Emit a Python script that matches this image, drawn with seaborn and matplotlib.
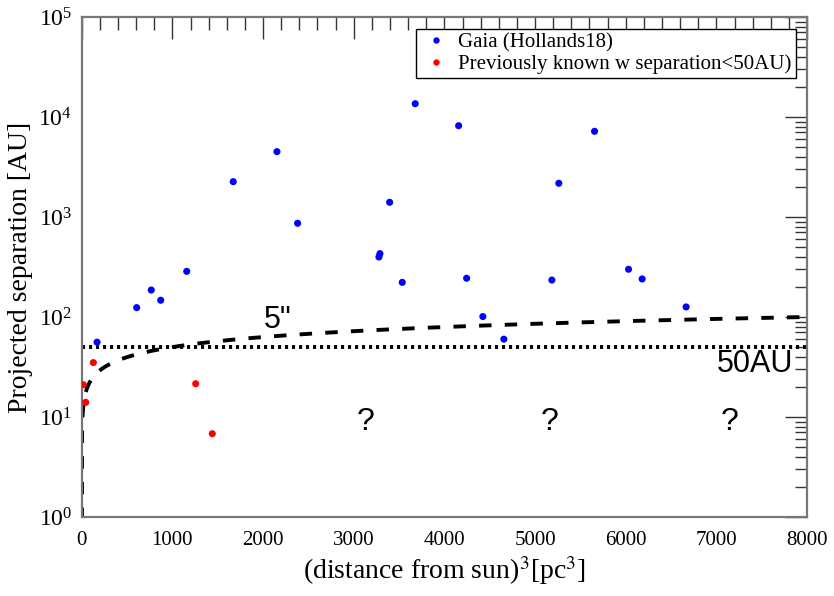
import numpy as np
import pandas as pd
import matplotlib
matplotlib.use("Agg")
import matplotlib.pyplot as plt
import seaborn as sns
from matplotlib.ticker import MultipleLocator, LogLocator, LogFormatterMathtext, NullFormatter

# ---- data ----
gaia_d3 = [169, 606, 767, 871, 1158, 1671, 2153, 2381, 3289, 3278, 3396, 3535,
           3678, 4157, 4245, 4424, 4656, 5185, 5262, 5656, 6031, 6181, 6666]
gaia_sep = [56, 124, 186, 147, 286, 2255, 4500, 865, 430, 398, 1403, 222,
            13580, 8180, 244, 101, 60, 234, 2173, 7190, 300, 240, 126]
known_d3 = [18, 44, 128, 1257, 1440]
known_sep = [21, 14.0, 35, 21.5, 6.8]
series_names = ["Gaia (Hollands18)", "Previously known w separation<50AU)"]
series_colors = ["#0000ff", "#ff0000"]

ang_limit_arcsec = 5.0      # 5" resolution limit: sep[AU] = 5 * d[pc]
sep_limit_au = 50.0
x_ticks = [0, 1000, 2000, 3000, 4000, 5000, 6000, 7000, 8000]
question_x = [3130, 5160, 7150]
question_y = 9.0

df = pd.DataFrame({
    "d3": gaia_d3 + known_d3,
    "sep": gaia_sep + known_sep,
    "group": [series_names[0]] * len(gaia_d3) + [series_names[1]] * len(known_d3),
})

sns.set_style("white")
plt.rcParams["font.family"] = ["Liberation Serif", "DejaVu Serif"]
plt.rcParams["mathtext.fontset"] = "stix"
plt.rcParams["text.color"] = "black"
plt.rcParams["axes.labelcolor"] = "black"

fig = plt.figure(figsize=(8.34, 5.96), dpi=100)
ax = fig.add_axes([0.0980, 0.1326, 0.8697, 0.8389])

# theoretical 5" curve
xc = np.linspace(0, 8000, 2000)
yc = ang_limit_arcsec * np.cbrt(xc)
yc[0] = 1e-3
ax.plot(xc, yc, color="black", lw=2.8, dashes=(3.2, 3.4), zorder=2)
ax.axhline(sep_limit_au, color="black", lw=2.8, ls=(0, (0.8, 1.0)), zorder=2)

sns.scatterplot(data=df, x="d3", y="sep", hue="group", palette=series_colors,
                hue_order=series_names, s=26, linewidth=0, ax=ax, zorder=3)

ax.set_yscale("log")
ax.set_xlim(0, 8000)
ax.set_ylim(1, 1e5)
ax.set_xticks(x_ticks)
ax.xaxis.set_minor_locator(MultipleLocator(200))
ax.yaxis.set_major_locator(LogLocator(base=10, numticks=10))
ax.yaxis.set_minor_locator(LogLocator(base=10, subs=np.arange(2, 10), numticks=10))
ax.yaxis.set_major_formatter(LogFormatterMathtext())
ax.yaxis.set_minor_formatter(NullFormatter())

ax.tick_params(which="both", direction="in", top=True, right=True, colors="#333333",
               labelcolor="black")
ax.tick_params(which="major", length=16, width=1.0)
ax.tick_params(which="minor", length=9, width=1.0)
ax.tick_params(axis="x", which="major", labelsize=15, pad=10)
ax.tick_params(axis="y", which="major", labelsize=17, pad=7)
for sp in ax.spines.values():
    sp.set_color("#777777")
    sp.set_linewidth(1.6)

ax.set_xlabel(r"(distance from sun)$^3$[pc$^3$]", fontsize=20, labelpad=3)
ax.set_ylabel("Projected separation [AU]", fontsize=20, labelpad=4)

sans = ["Liberation Sans", "DejaVu Sans"]
ax.text(2164, 93, '5"', fontsize=22, family=sans, ha="center", va="center")
ax.text(7850, 34, "50AU", fontsize=22, family=sans, ha="right", va="center")
for qx in question_x:
    ax.text(qx, question_y, "?", fontsize=23, family=sans, ha="center", va="center")

leg = ax.legend(loc="upper right", bbox_to_anchor=(0.99, 0.985), fontsize=15,
                frameon=True, fancybox=False, edgecolor="black", framealpha=1,
                borderpad=0.2, handletextpad=0.3, labelspacing=0.1, markerscale=0.9,
                borderaxespad=0.2, handlelength=1.5)
leg.get_frame().set_linewidth(1.0)

fig.savefig("out.png", dpi=100)
